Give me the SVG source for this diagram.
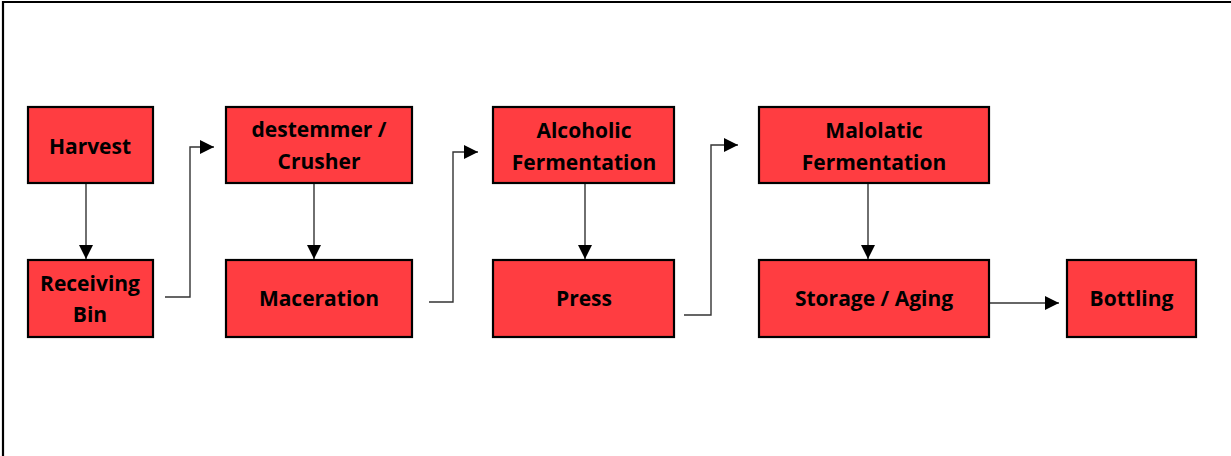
<svg xmlns="http://www.w3.org/2000/svg" width="1231" height="456" viewBox="0 0 1231 456">
<style>
.box{fill:#FF3D41;stroke:#000;stroke-width:2.2}
.t{font-family:"Open Sans","Liberation Sans",sans-serif;font-weight:bold;font-size:21px;fill:#000;text-anchor:middle}
.c{fill:none;stroke:#333;stroke-width:1.4}
</style>
<defs>
<marker id="ah" markerWidth="14" markerHeight="14" refX="14" refY="7" orient="auto" markerUnits="userSpaceOnUse">
<path d="M0,0 L14,7 L0,14 Z" fill="#000"/>
</marker>
</defs>
<rect x="0" y="0" width="1231" height="456" fill="#fff"/>
<path d="M3,456 V2 H1231" fill="none" stroke="#000" stroke-width="2.2"/>
<g id="connectors">
<path class="c" d="M86,183 V259" marker-end="url(#ah)"/>
<path class="c" d="M165,297 H190 V147 H214" marker-end="url(#ah)"/>
<path class="c" d="M314,183 V259" marker-end="url(#ah)"/>
<path class="c" d="M429,302 H453 V152 H478" marker-end="url(#ah)"/>
<path class="c" d="M585,183 V259" marker-end="url(#ah)"/>
<path class="c" d="M684,315 H711 V145 H738" marker-end="url(#ah)"/>
<path class="c" d="M868,183 V259" marker-end="url(#ah)"/>
<path class="c" d="M990,303 H1059" marker-end="url(#ah)"/>
</g>
<g id="harvest"><rect class="box" x="28" y="107" width="125" height="76"/><text class="t" x="90" y="154">Harvest</text></g>
<g id="receiving-bin"><rect class="box" x="28" y="260" width="125" height="77"/><text class="t" x="90" y="291">Receiving</text><text class="t" x="90" y="322">Bin</text></g>
<g id="destemmer"><rect class="box" x="226" y="107" width="186" height="76"/><text class="t" x="319" y="137">destemmer /</text><text class="t" x="319" y="169">Crusher</text></g>
<g id="maceration"><rect class="box" x="226" y="260" width="186" height="77"/><text class="t" x="319" y="306">Maceration</text></g>
<g id="alcoholic"><rect class="box" x="493" y="107" width="181" height="76"/><text class="t" x="584" y="138">Alcoholic</text><text class="t" x="584" y="170">Fermentation</text></g>
<g id="press"><rect class="box" x="493" y="260" width="181" height="77"/><text class="t" x="584" y="306">Press</text></g>
<g id="malolatic"><rect class="box" x="759" y="107" width="230" height="76"/><text class="t" x="874" y="138">Malolatic</text><text class="t" x="874" y="170">Fermentation</text></g>
<g id="storage"><rect class="box" x="759" y="260" width="230" height="77"/><text class="t" x="874" y="306">Storage / Aging</text></g>
<g id="bottling"><rect class="box" x="1067" y="260" width="129" height="77"/><text class="t" x="1131.5" y="306">Bottling</text></g>
</svg>
